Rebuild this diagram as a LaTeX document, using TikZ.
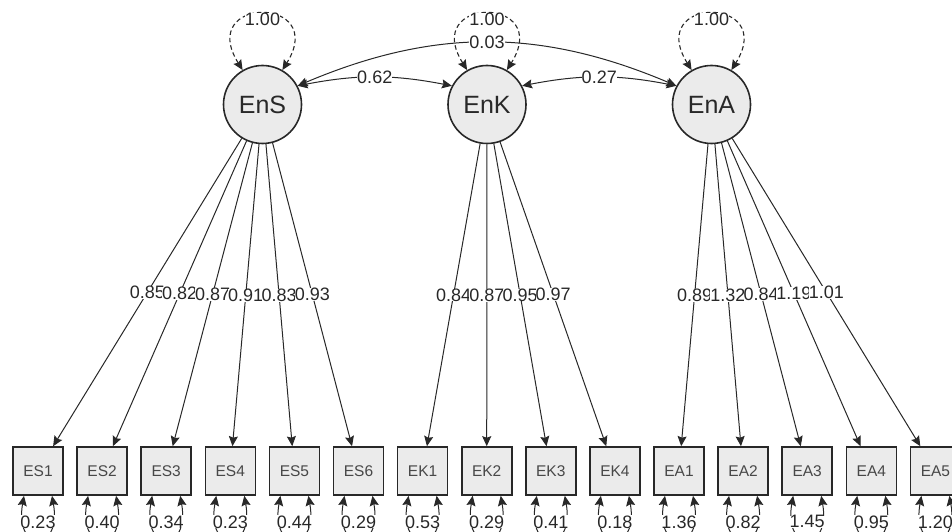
\documentclass[tikz,border=0pt]{standalone}
\usepackage{fontspec}
\setmainfont{Liberation Sans}
\usetikzlibrary{arrows.meta}

\definecolor{ink}{RGB}{40,40,40}
\definecolor{nodefill}{RGB}{235,235,235}

\tikzset{
  lat/.style={circle, draw=ink, line width=1.6pt, fill=nodefill,
    minimum size=78pt, inner sep=0pt, text=ink,
    font=\fontsize{25}{25}\selectfont},
  man/.style={rectangle, draw=ink, line width=1.6pt, fill=nodefill,
    minimum width=50pt, minimum height=48pt, inner sep=0pt, text=ink!85,
    font=\fontsize{15.5}{15.5}\selectfont},
  loadarrow/.style={draw=ink, line width=1pt, ->},
  covarrow/.style={draw=ink, line width=1pt, <->},
  resloop/.style={draw=ink, line width=1pt, <->},
  varloop/.style={draw=ink, line width=1.1pt, <->, dash pattern=on 4.5pt off 3pt},
  vlab/.style={fill=white, inner sep=0pt, text=ink,
    font=\fontsize{18}{18}\selectfont},
}

\begin{document}
\begin{tikzpicture}[x=1pt, y=1pt, >={Stealth[length=10pt,width=9pt,inset=1.5pt]}]
  \useasboundingbox (0,0) rectangle (952,531);
  \clip (0,0) rectangle (952,531);

  % latent factors
  \node[lat] (EnS) at (262.5,426.5) {EnS};
  \node[lat] (EnK) at (487,426.5) {EnK};
  \node[lat] (EnA) at (711.5,426.5) {EnA};

  % indicators
  \foreach \n [count=\i from 0] in {ES1,ES2,ES3,ES4,ES5,ES6,EK1,EK2,EK3,EK4,EA1,EA2,EA3,EA4,EA5}
    \node[man] (\n) at ({38+64.1*\i},60) {\n};

  % factor variances
  \foreach \lv in {EnS,EnK,EnA} {
    \draw[varloop] (\lv.120) .. controls +(122:88) and +(58:88) .. (\lv.60);
    \node[vlab] (v\lv) at ([yshift=45.5pt]\lv.north) {1.00};
  }

  % factor covariances
  \draw[covarrow] (EnS.28) to[bend left=11] node[vlab] (cSK) {0.62} (EnK.152);
  \draw[covarrow] (EnK.28) to[bend left=11] node[vlab] (cKA) {0.27} (EnA.152);
  \draw[covarrow] (EnS.28) to[bend left=23] node[vlab] (cSA) {0.03} (EnA.152);

  % loadings
  \foreach \lv/\mv/\w in {EnS/ES1/0.85, EnS/ES2/0.82, EnS/ES3/0.87, EnS/ES4/0.91,
      EnS/ES5/0.83, EnS/ES6/0.93, EnK/EK1/0.84, EnK/EK2/0.87, EnK/EK3/0.95,
      EnK/EK4/0.97, EnA/EA1/0.89, EnA/EA2/1.32, EnA/EA3/0.84, EnA/EA4/1.19,
      EnA/EA5/1.01}
    \draw[loadarrow] (\lv) -- (\mv) node[vlab, pos=0.5] (l\mv) {\w};

  % residual variances
  \foreach \mv/\v in {ES1/0.23, ES2/0.40, ES3/0.34, ES4/0.23, ES5/0.44, ES6/0.29,
      EK1/0.53, EK2/0.29, EK3/0.41, EK4/0.18, EA1/1.36, EA2/0.82, EA3/1.45,
      EA4/0.95, EA5/1.20} {
    \draw[resloop] ([xshift=-14pt]\mv.south) .. controls +(-100:58) and +(-80:58) .. ([xshift=14pt]\mv.south);
    \node[vlab] (r\mv) at ([yshift=-26pt]\mv.south) {\v};
  }
\end{tikzpicture}
\end{document}
